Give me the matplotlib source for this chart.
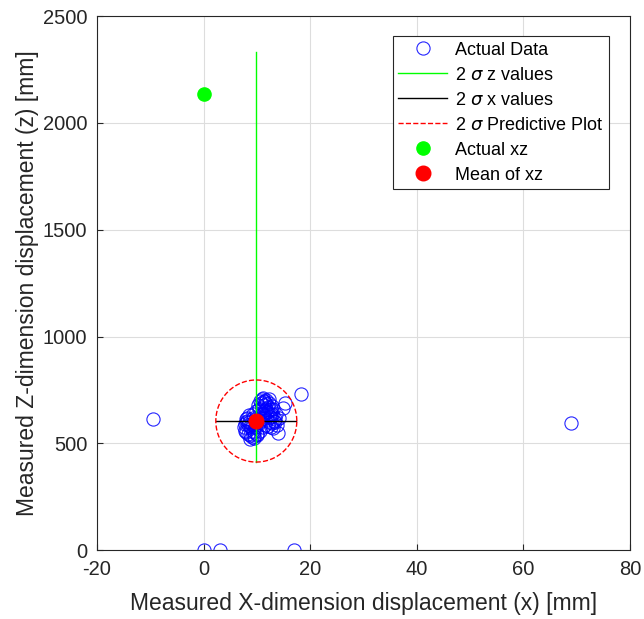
import numpy as np
import matplotlib.pyplot as plt

plt.rcParams['font.family'] = ['Liberation Sans', 'DejaVu Sans']
plt.rcParams['axes.unicode_minus'] = False

# measured points (x, z) in mm
data_x = [-9.4, 18.2, 69.0, 0.0, 3.0, 17.0,
          8.0, 8.4, 8.9, 9.3, 9.7, 10.2, 10.6, 11.0, 11.4, 11.9, 12.3, 12.8, 13.2,
          7.8, 8.3, 8.8, 9.4, 10.0, 10.5, 11.1, 11.6, 12.1, 12.6, 13.0,
          8.1, 8.6, 9.2, 9.8, 10.4, 11.0, 11.5, 12.0, 12.5,
          10.3, 10.8, 11.3, 11.8, 12.3, 12.8, 11.0, 11.6, 12.1,
          9.0, 9.5, 10.0, 10.6, 11.2,
          14.9, 15.3, 14.0, 13.6, 13.4, 7.7, 8.2, 8.8, 9.3, 12.6, 13.0,
          7.6, 8.0, 8.5, 9.1, 9.6, 10.9, 11.3, 11.8, 12.4, 12.9, 13.5,
          10.6, 11.2, 11.7, 12.2, 12.7, 9.4, 9.9, 8.7, 7.9, 13.8, 14.2]
data_z = [615, 730, 595, 0, 0, 0,
          600, 585, 570, 560, 575, 590, 605, 615, 620, 610, 600, 595, 605,
          560, 545, 540, 535, 545, 560, 575, 585, 580, 575, 570,
          620, 635, 640, 650, 660, 665, 655, 645, 640,
          680, 690, 700, 705, 690, 675, 710, 695, 670,
          530, 525, 540, 620, 640,
          665, 690, 550, 640, 600, 590, 605, 580, 620, 625, 660,
          575, 555, 600, 590, 615, 640, 680, 660, 625, 640, 615,
          700, 715, 685, 710, 660, 555, 595, 520, 615, 585, 620]

mean_x, mean_z = 9.9, 605
actual_x, actual_z = 0.0, 2135

# 2 sigma lines
z_line_x = [9.9, 9.9]
z_line_z = [415, 2330]
x_line_x = [2.4, 17.4]
x_line_z = [605, 605]

# 2 sigma predictive ellipse semi-axes
sig2_x = 7.6
sig2_z = 192

fig = plt.figure(figsize=(6.44, 6.19), dpi=100)
ax = fig.add_axes([0.1506, 0.111, 0.8274, 0.863])

t = np.linspace(0, 2 * np.pi, 200)
ax.plot(data_x, data_z, 'o', mfc='none', mec='#0000ff', mew=0.8, ms=9.5,
        label='Actual Data', alpha=0.85)
ax.plot(z_line_x, z_line_z, '-', color='#00ff00', lw=1, label=r'2 $\sigma$ z values')
ax.plot(x_line_x, x_line_z, '-', color='black', lw=1, label=r'2 $\sigma$ x values')
ax.plot(mean_x + sig2_x * np.cos(t), mean_z + sig2_z * np.sin(t), '--',
        color='#ff0000', lw=1, label=r'2 $\sigma$ Predictive Plot')
ax.plot(actual_x, actual_z, 'o', color='#00ff00', ms=9.5, label='Actual xz')
ax.plot(mean_x, mean_z, 'o', color='#ff0000', ms=10.5, label='Mean of xz')

ax.set_xlim(-20, 80)
ax.set_ylim(0, 2500)
ax.set_xticks([-20, 0, 20, 40, 60, 80])
ax.set_yticks([0, 500, 1000, 1500, 2000, 2500])
ax.grid(True, color='#dddddd', lw=0.8)
ax.set_axisbelow(True)
ax.tick_params(direction='in', length=4, labelsize=14.5, colors='#262626', pad=7)
for s in ax.spines.values():
    s.set_color('#262626')
    s.set_linewidth(0.8)

ax.set_xlabel('Measured X-dimension displacement (x) [mm]', fontsize=16.5,
              color='#262626', labelpad=9)
ax.set_ylabel('Measured Z-dimension displacement (z) [mm]', fontsize=16.5,
              color='#262626', labelpad=3)

leg = ax.legend(loc='upper right', bbox_to_anchor=(0.961, 0.962), fontsize=13,
                fancybox=False, edgecolor='#262626', framealpha=1,
                handlelength=2.7, handletextpad=0.45, borderpad=0.3,
                labelspacing=0.44, borderaxespad=0)
leg.get_frame().set_linewidth(0.8)

fig.savefig('out.png')
